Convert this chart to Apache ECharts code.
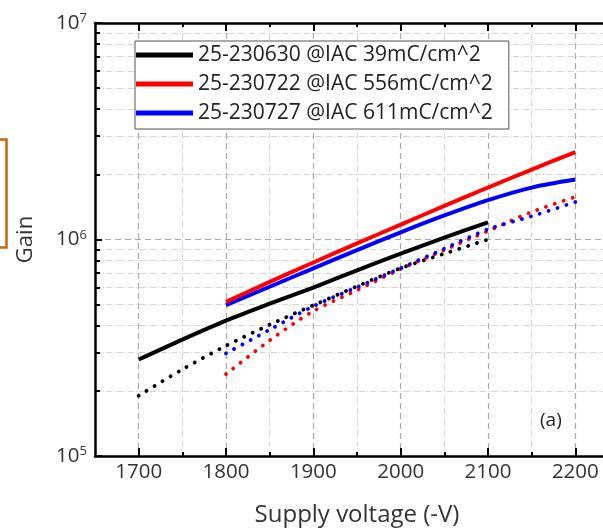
<!DOCTYPE html>
<html>
<head>
<meta charset="utf-8">
<script src="https://cdn.jsdelivr.net/npm/echarts@6/dist/echarts.min.js"></script>
<style>
html,body{margin:0;padding:0;background:#fff;}
#c{width:603px;height:528px;}
</style>
</head>
<body>
<div id="c"></div>
<script>
// ---- data ----
const seriesNames = ['25-230630 @IAC 39mC/cm^2', '25-230722 @IAC 556mC/cm^2', '25-230727 @IAC 611mC/cm^2'];
const blackV = [1700, 1750, 1800, 1850, 1900, 1950, 2000, 2050, 2100];
const redBlueV = [1800, 1850, 1900, 1950, 2000, 2050, 2100, 2150, 2200];
const blackSolid = [2.79e5, 3.45e5, 4.22e5, 5.05e5, 6.0e5, 7.2e5, 8.6e5, 1.02e6, 1.2e6];
const blackDotted = [1.90e5, 2.51e5, 3.23e5, 4.04e5, 4.97e5, 6.08e5, 7.37e5, 8.6e5, 1.0e6];
const redSolid = [5.15e5, 6.37e5, 7.83e5, 9.59e5, 1.172e6, 1.429e6, 1.738e6, 2.104e6, 2.535e6];
const redDotted = [2.39e5, 3.42e5, 4.67e5, 5.83e5, 7.3e5, 8.94e5, 1.095e6, 1.34e6, 1.573e6];
const blueSolid = [4.98e5, 6.05e5, 7.36e5, 8.93e5, 1.079e6, 1.291e6, 1.52e6, 1.737e6, 1.891e6];
const blueDotted = [2.98e5, 3.83e5, 4.92e5, 6.02e5, 7.37e5, 9.07e5, 1.115e6, 1.28e6, 1.49e6];
const xMajor = [1700, 1800, 1900, 2000, 2100, 2200];
const xMinor = [1750, 1850, 1950, 2050, 2150];
const yMajor = [1e5, 1e6, 1e7];
const yMinor = [2e5, 3e5, 4e5, 5e5, 6e5, 7e5, 8e5, 9e5, 2e6, 3e6, 4e6, 5e6, 6e6, 7e6, 8e6, 9e6];

// ---- chart ----
const FONT = 'Open Sans';
const chart = echarts.init(document.getElementById('c'), null, {renderer: 'canvas'});
const pair = (xs, ys) => xs.map((x, i) => [x, ys[i]]);
const X_MIN = 1650, X_MAX = 2250, Y_MIN = 1e5, Y_MAX = 1e7;

function xAx(pos, ticks, len, opts) {
  return Object.assign({
    type: 'value', position: pos, min: X_MIN, max: X_MAX,
    axisLine: {show: false, onZero: false},
    axisTick: {show: true, inside: true, length: len, customValues: ticks, lineStyle: {color: '#000', width: 2}},
    axisLabel: {show: false},
    splitLine: {show: false}
  }, opts || {});
}
function yAx(ticks, len, opts) {
  return Object.assign({
    type: 'log', logBase: 10, position: 'left', min: Y_MIN, max: Y_MAX,
    axisLine: {show: false, onZero: false},
    axisTick: {show: true, inside: true, length: len, customValues: ticks, lineStyle: {color: '#000', width: 2}},
    axisLabel: {show: false},
    splitLine: {show: false}
  }, opts || {});
}

const solidStyle = (c) => ({color: c, width: 4});
const dotStyle = (c) => ({color: c, width: 3.8, type: [0.1, 9.2], cap: 'round'});

const option = {
  animation: false,
  backgroundColor: '#fff',
  grid: {left: 95, top: 23, height: 433, width: 524, containLabel: false, outerBoundsMode: 'none'},
  legend: {
    orient: 'vertical', left: 135, top: 41,
    data: seriesNames,
    icon: 'rect', itemWidth: 57, itemHeight: 5, itemGap: 3, itemTextGap: 4,
    padding: [1, 16, 3, 1],
    borderColor: '#555', borderWidth: 1, backgroundColor: '#fff',
    textStyle: {fontFamily: FONT, fontSize: 21, color: '#222', lineHeight: 26},
    selectedMode: false
  },
  xAxis: [
    xAx('bottom', xMinor, 4, {
      splitLine: {show: true, lineStyle: {color: '#d4d4d4', width: 1, type: [6, 2, 1, 2]}}
    }),
    xAx('bottom', xMajor, 8, {
      axisLine: {show: true, onZero: false, lineStyle: {color: '#000', width: 2.5}},
      axisLabel: {show: true, customValues: xMajor, formatter: (v) => String(v), fontFamily: FONT, fontSize: 20.5, color: '#333', margin: 6},
      splitLine: {show: true, lineStyle: {color: '#aaaaaa', width: 1.2, type: [6, 4]}},
      name: 'Supply voltage (-V)', nameLocation: 'middle', nameGap: 47,
      nameTextStyle: {fontFamily: FONT, fontSize: 24, color: '#333'}
    }),
    xAx('top', xMinor, 4),
    xAx('top', xMajor, 8, {
      axisLine: {show: true, onZero: false, lineStyle: {color: '#000', width: 2.5}}
    })
  ],
  yAxis: [
    yAx(yMajor, 7, {
      axisLine: {show: true, onZero: false, lineStyle: {color: '#000', width: 2.5}},
      axisLabel: {
        show: true, customValues: yMajor, margin: 8,
        formatter: (v) => '{b|10}{e|' + Math.round(Math.log10(v)) + '}',
        rich: {
          b: {fontFamily: FONT, fontSize: 20.5, color: '#333', lineHeight: 22},
          e: {fontFamily: FONT, fontSize: 13, color: '#333', lineHeight: 13, verticalAlign: 'top'}
        }
      },
      splitLine: {show: true, lineStyle: {color: '#aaaaaa', width: 1.2, type: [6, 4]}},
      name: 'Gain', nameLocation: 'middle', nameGap: 58, nameRotate: 90,
      nameTextStyle: {fontFamily: FONT, fontSize: 22, color: '#333'}
    }),
    yAx(yMinor, 5, {
      splitLine: {show: true, lineStyle: {color: '#d4d4d4', width: 1, type: [6, 2, 1, 2]}}
    })
  ],
  series: [
    {name: 'bd', type: 'line', xAxisIndex: 1, yAxisIndex: 0, data: pair(blackV, blackDotted), showSymbol: false, smooth: 0.3, lineStyle: dotStyle('#000'), z: 3},
    {name: 'rd', type: 'line', xAxisIndex: 1, yAxisIndex: 0, data: pair(redBlueV, redDotted), showSymbol: false, smooth: 0.3, lineStyle: dotStyle('#ff0000'), z: 3},
    {name: 'ud', type: 'line', xAxisIndex: 1, yAxisIndex: 0, data: pair(redBlueV, blueDotted), showSymbol: false, smooth: 0.3, lineStyle: dotStyle('#0000ff'), z: 3},
    {name: seriesNames[0], type: 'line', xAxisIndex: 1, yAxisIndex: 0, data: pair(blackV, blackSolid), showSymbol: false, smooth: 0.3, color: '#000', lineStyle: solidStyle('#000'), z: 4},
    {name: seriesNames[2], type: 'line', xAxisIndex: 1, yAxisIndex: 0, data: pair(redBlueV, blueSolid), showSymbol: false, smooth: 0.3, color: '#0000ff', lineStyle: solidStyle('#0000ff'), z: 4},
    {name: seriesNames[1], type: 'line', xAxisIndex: 1, yAxisIndex: 0, data: pair(redBlueV, redSolid), showSymbol: false, smooth: 0.3, color: '#ff0000', lineStyle: solidStyle('#ff0000'), z: 4}
  ],
  graphic: [
    {type: 'rect', left: -20, top: 137, shape: {x: 0, y: 0, width: 24, height: 108}, style: {fill: 'none', stroke: '#c8650a', lineWidth: 2.5}},
    {type: 'text', left: 540, top: 411, style: {text: '(a)', font: '19px "Open Sans"', fill: '#222'}}
  ]
};
chart.setOption(option);
</script>
</body>
</html>
